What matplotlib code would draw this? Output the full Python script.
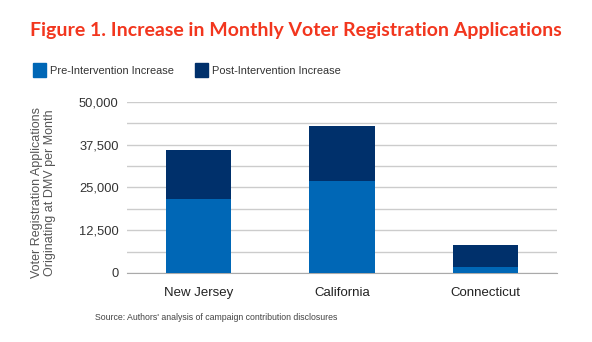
import numpy as np
import matplotlib
matplotlib.use("Agg")
import matplotlib.pyplot as plt
from matplotlib.patches import Rectangle

states = ["New Jersey", "California", "Connecticut"]
pre_increase = [21500, 26800, 1700]
post_increase = [14400, 16200, 6500]
yticks = [0, 12500, 25000, 37500, 50000]

pre_color = "#0067B6"
post_color = "#00306B"
title_color = "#F2361E"

plt.rcParams['font.family'] = ['Liberation Sans', 'DejaVu Sans']

fig = plt.figure(figsize=(5.92, 3.42), dpi=100)
ax = fig.add_axes([0.2145, 0.2018, 0.7264, 0.5])

x = np.arange(len(states))
ax.bar(x, pre_increase, width=0.455, color=pre_color, zorder=3)
ax.bar(x, post_increase, width=0.455, bottom=pre_increase, color=post_color, zorder=3)

ax.set_xlim(-0.5, 2.5)
ax.set_ylim(0, 50000)
ax.set_yticks(yticks)
ax.set_yticklabels(["{:,}".format(v) for v in yticks], fontsize=9.3, color="#333333")
ax.set_yticks(np.arange(6250, 50000, 12500), minor=True)
ax.set_xticks(x)
ax.set_xticklabels(states, fontsize=9.5, color="#222222")
ax.grid(axis='y', which='both', color="#CCCCCC", linewidth=1, zorder=0)
ax.tick_params(axis='both', which='both', length=0)
ax.tick_params(axis='y', pad=6)
ax.tick_params(axis='x', pad=10)
for s in ['top', 'right', 'left']:
    ax.spines[s].set_visible(False)
ax.spines['bottom'].set_color("#AAAAAA")
ax.set_ylabel("Voter Registration Applications\nOriginating at DMV per Month",
              fontsize=9.0, color="#555555", linespacing=1.2)
ax.yaxis.set_label_coords(-0.164, 0.47)

fig.text(0.5, 0.91, "Figure 1. Increase in Monthly Voter Registration Applications",
         ha='center', va='center', fontsize=14, fontweight='bold', color=title_color,
         family=['Lato', 'DejaVu Sans'])

# legend
fig.patches.append(Rectangle((33 / 592, 1 - 77 / 342), 13 / 592, 14 / 342,
                             transform=fig.transFigure, color=pre_color))
fig.text(50 / 592, 1 - 71 / 342, "Pre-Intervention Increase", fontsize=7.9,
         color="#333333", va='center')
fig.patches.append(Rectangle((195 / 592, 1 - 77 / 342), 13 / 592, 14 / 342,
                             transform=fig.transFigure, color=post_color))
fig.text(212 / 592, 1 - 71 / 342, "Post-Intervention Increase", fontsize=7.9,
         color="#333333", va='center')

fig.text(95 / 592, 1 - 318 / 342, "Source: Authors' analysis of campaign contribution disclosures",
         fontsize=6.35, color="#444444", va='center')

fig.savefig("out.png", dpi=100)
